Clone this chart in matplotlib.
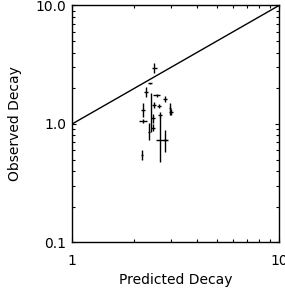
import numpy as np
import matplotlib
matplotlib.use('Agg')
import matplotlib.pyplot as plt
from matplotlib.ticker import FixedLocator, LogLocator, NullFormatter

# predicted vs observed decay
predicted = [2.49, 2.38, 2.28, 2.57, 2.81, 2.20, 2.41, 2.49, 2.63, 2.97,
             3.01, 2.20, 2.46, 2.66, 2.46, 2.35, 2.66, 2.81, 2.18]
observed = [2.96, 2.21, 1.86, 1.75, 1.62, 1.31, 1.26, 1.44, 1.42, 1.36,
            1.26, 1.06, 1.12, 1.19, 0.93, 0.86, 0.73, 0.73, 0.55]
obs_lo = [2.68, 2.19, 1.70, 1.70, 1.52, 1.15, 0.86, 1.36, 1.37, 1.20,
          1.18, 1.02, 1.02, 1.12, 0.87, 0.73, 0.48, 0.58, 0.50]
obs_hi = [3.26, 2.23, 2.05, 1.80, 1.73, 1.50, 1.82, 1.52, 1.47, 1.50,
          1.34, 1.10, 1.22, 1.26, 1.00, 1.02, 1.14, 0.89, 0.60]
pred_lo = [2.42, 2.33, 2.22, 2.47, 2.76, 2.16, 2.41, 2.44, 2.58, 2.93,
           2.95, 2.10, 2.40, 2.60, 2.40, 2.33, 2.55, 2.76, 2.16]
pred_hi = [2.56, 2.43, 2.34, 2.67, 2.86, 2.24, 2.41, 2.54, 2.68, 3.01,
           3.07, 2.30, 2.52, 2.72, 2.52, 2.37, 2.91, 2.86, 2.20]

x_ticks = [1, 10]
x_ticklabels = ['1', '10']
y_ticks = [0.1, 1.0, 10.0]
y_ticklabels = ['0.1', '1.0', '10.0']

plt.rcParams['font.family'] = ['DejaVu Sans']

fig = plt.figure(figsize=(2.85, 2.88), dpi=100)
ax = fig.add_axes([0.253, 0.158, 0.726, 0.823])

x = np.array(predicted)
y = np.array(observed)
yerr = [y - np.array(obs_lo), np.array(obs_hi) - y]
xerr = [x - np.array(pred_lo), np.array(pred_hi) - x]
ax.errorbar(x, y, xerr=xerr, yerr=yerr, fmt='none', ecolor='black',
            elinewidth=1.0, capsize=0)

ax.plot([1, 10], [1, 10], color='black', lw=1.0)

ax.set_xscale('log')
ax.set_yscale('log')
ax.set_xlim(1, 10)
ax.set_ylim(0.1, 10)

ax.xaxis.set_major_locator(FixedLocator(x_ticks))
ax.set_xticklabels(x_ticklabels)
ax.yaxis.set_major_locator(FixedLocator(y_ticks))
ax.set_yticklabels(y_ticklabels)
ax.xaxis.set_minor_locator(LogLocator(subs=np.arange(2, 10)))
ax.yaxis.set_minor_locator(LogLocator(subs=np.arange(2, 10)))
ax.xaxis.set_minor_formatter(NullFormatter())
ax.yaxis.set_minor_formatter(NullFormatter())

ax.tick_params(which='both', direction='in', top=True, right=True,
               labelsize=10, width=0.8)
ax.tick_params(which='major', length=3)
ax.tick_params(which='minor', length=2.5)
ax.tick_params(axis='x', pad=8)
ax.tick_params(axis='y', pad=4)
for s in ax.spines.values():
    s.set_linewidth(1.0)

ax.set_xlabel('Predicted Decay', fontsize=10, labelpad=4)
ax.set_ylabel('Observed Decay', fontsize=10, labelpad=10)

fig.savefig('out.png', dpi=100)
